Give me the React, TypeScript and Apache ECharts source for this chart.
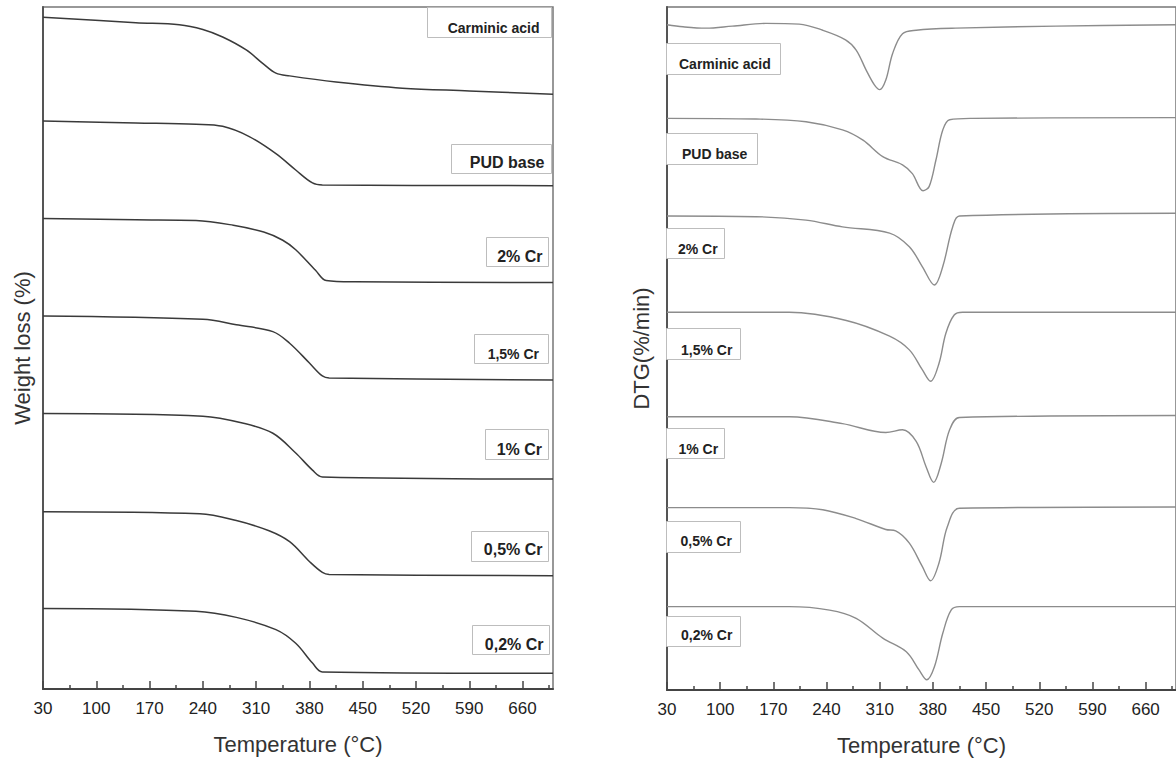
import React, { useEffect, useRef } from "react";
import * as echarts from "echarts";

// ---- categories / ticks ----
const sampleNames = ["Carminic acid", "PUD base", "2% Cr", "1,5% Cr", "1% Cr", "0,5% Cr", "0,2% Cr"];
const xMajorTicks = [30, 100, 170, 240, 310, 380, 450, 520, 590, 660];
const xMinorTicks = [65, 135, 205, 275, 345, 415, 485, 555, 625, 695];

// ---- TGA curves (left panel), [temperature °C, stacked signal a.u.] ----
const tgaCarminic = [[30, 98.5], [152, 97.7], [209, 97.4], [240, 96.7], [266, 95.6], [297, 93.7], [319, 91.7], [336, 90.3], [354, 89.9], [415, 89.0], [502, 88.1], [590, 87.7], [700, 87.2]];
const tgaPud = [[30, 83.3], [152, 83.0], [231, 82.8], [266, 82.5], [301, 81.0], [336, 78.5], [362, 76.1], [384, 74.2], [397, 73.9], [700, 73.8]];
const tga2 = [[30, 69.0], [152, 68.8], [231, 68.7], [280, 68.0], [320, 67.0], [345, 65.8], [362, 64.4], [388, 61.4], [402, 59.9], [440, 59.7], [700, 59.6]];
const tga15 = [[30, 54.7], [240, 54.2], [284, 53.4], [332, 52.4], [354, 50.7], [380, 47.8], [397, 45.9], [406, 45.6], [700, 45.3]];
const tga1 = [[30, 40.4], [240, 40.0], [292, 39.0], [332, 37.5], [362, 34.6], [384, 32.1], [397, 31.1], [700, 30.8]];
const tga05 = [[30, 26.0], [236, 25.7], [284, 24.7], [327, 23.2], [354, 21.6], [380, 18.7], [397, 17.1], [406, 16.8], [700, 16.6]];
const tga02 = [[30, 11.8], [231, 11.4], [284, 10.5], [336, 8.7], [362, 6.7], [384, 3.8], [397, 2.5], [700, 2.3]];

// ---- DTG curves (right panel), [temperature °C, stacked signal a.u.] ----
const dtgCarminic = [[30, 97.4], [51, 97.1], [81, 96.9], [116, 97.2], [160, 97.6], [204, 97.5], [235, 96.6], [265, 95.2], [279, 93.7], [292, 90.8], [303, 88.6], [310, 87.9], [318, 89.3], [327, 93.2], [340, 96.1], [358, 96.6], [410, 96.9], [542, 97.2], [700, 97.4]];
const dtgPud = [[30, 83.7], [147, 83.6], [213, 83.2], [261, 82.0], [288, 80.5], [314, 78.1], [340, 76.9], [353, 75.6], [367, 73.1], [375, 73.7], [384, 77.6], [393, 82.0], [402, 83.5], [432, 83.7], [700, 83.8]];
const dtg2 = [[30, 69.4], [147, 69.3], [213, 68.8], [261, 67.8], [323, 66.9], [349, 64.9], [366, 62.0], [382, 59.3], [393, 62.0], [406, 67.8], [415, 69.4], [700, 69.8]];
const dtg15 = [[30, 55.3], [191, 55.3], [266, 54.1], [323, 51.8], [349, 49.8], [366, 46.9], [377, 45.2], [388, 47.8], [397, 52.2], [408, 54.9], [419, 55.3], [700, 55.3]];
const dtg1 = [[30, 40.0], [191, 40.0], [261, 39.0], [318, 37.7], [340, 38.1], [358, 36.4], [371, 32.7], [381, 30.4], [391, 33.2], [402, 38.1], [415, 39.9], [700, 40.2]];
const dtg05 = [[30, 26.7], [191, 26.7], [235, 26.4], [279, 25.1], [318, 23.5], [331, 23.3], [349, 21.5], [366, 18.1], [377, 16.0], [388, 18.6], [399, 23.9], [415, 26.6], [700, 26.8]];
const dtg02 = [[30, 12.2], [191, 12.2], [244, 11.7], [279, 10.5], [314, 7.6], [345, 5.6], [362, 2.9], [372, 1.5], [382, 3.4], [393, 8.3], [404, 11.7], [415, 12.2], [700, 12.2]];

const tgaSeries = [tgaCarminic, tgaPud, tga2, tga15, tga1, tga05, tga02];
const dtgSeries = [dtgCarminic, dtgPud, dtg2, dtg15, dtg1, dtg05, dtg02];

// ---- label box layout (pixels) ----
// [x1, x2, y1, y2, textX, textY, fontSize]
const leftBoxes = [
  [427, 551, 7, 37, 539.5, 27.5, 14],
  [451, 551, 144, 173, 544.5, 162, 16],
  [486, 548, 237, 266, 542.5, 256.5, 16],
  [474, 548, 334, 363, 539, 354, 14],
  [485, 548, 429, 459, 542, 449, 16],
  [471, 548, 531, 561, 542.5, 549.5, 16],
  [472, 549, 625, 654, 543.5, 644, 16],
];
const rightBoxes = [
  [666, 780, 43, 74, 679, 63.5, 14],
  [666, 757, 133, 164, 682, 153.5, 14],
  [666, 724, 228, 258, 678, 248.5, 14],
  [666, 740, 328, 359, 681, 349.5, 14],
  [666, 724, 428, 458, 678.5, 448.5, 14],
  [666, 740, 521, 552, 680.5, 541, 14],
  [666, 740, 616, 646, 681, 635, 14],
];

const FONT = '"Liberation Sans", Arial, Helvetica, sans-serif';

function mainXAxis(gridIndex: number) {
  return {
    gridIndex,
    type: "value",
    min: 30,
    max: 700,
    position: "bottom",
    axisLine: { show: true, onZero: false, lineStyle: { color: "#444", width: 2 } },
    axisTick: { show: true, inside: true, length: 8, customValues: xMajorTicks, lineStyle: { color: "#444", width: 1.5 } },
    axisLabel: { show: true, customValues: xMajorTicks, fontSize: 17, color: "#222", margin: 11, fontFamily: FONT },
    splitLine: { show: false },
    name: "Temperature (°C)",
    nameLocation: "middle",
    nameGap: 44,
    nameTextStyle: { fontSize: 22, color: "#333", fontFamily: FONT },
  };
}
function minorXAxis(gridIndex: number) {
  return {
    gridIndex,
    type: "value",
    min: 30,
    max: 700,
    position: "bottom",
    axisLine: { show: false, onZero: false },
    axisTick: { show: true, inside: true, length: 4, customValues: xMinorTicks, lineStyle: { color: "#444", width: 1.5 } },
    axisLabel: { show: false },
    splitLine: { show: false },
  };
}
function yAxisFor(gridIndex: number, name: string, gap: number) {
  return {
    gridIndex,
    type: "value",
    min: 0,
    max: 100,
    axisLine: { show: true, lineStyle: { color: "#555", width: 2 } },
    axisTick: { show: false },
    axisLabel: { show: false },
    splitLine: { show: false },
    name,
    nameLocation: "middle",
    nameGap: gap,
    nameTextStyle: { fontSize: 22, color: "#333", fontFamily: FONT },
  };
}

function boxGraphics(boxes: number[][], align: "left" | "right") {
  const els: any[] = [];
  boxes.forEach((b, i) => {
    const [x1, x2, y1, y2, tx, ty, fs] = b;
    els.push({
      type: "rect",
      z: 100,
      shape: { x: x1 + 0.5, y: y1 + 0.5, width: x2 - x1, height: y2 - y1 },
      style: { fill: "#fff", stroke: "#bdbdbd", lineWidth: 1 },
    });
    els.push({
      type: "text",
      z: 101,
      x: tx,
      y: ty,
      style: {
        text: sampleNames[i],
        fill: "#222",
        fontSize: fs,
        fontWeight: "bold",
        fontFamily: FONT,
        align,
        verticalAlign: "middle",
      },
    });
  });
  return els;
}

export default function App() {
  const ref = useRef<HTMLDivElement>(null);
  useEffect(() => {
    if (!ref.current) return;
    const chart = echarts.init(ref.current, null, { renderer: "svg" });
    const series: any[] = [];
    tgaSeries.forEach((d, i) => {
      series.push({
        name: "TGA " + sampleNames[i],
        type: "line",
        xAxisIndex: 0,
        yAxisIndex: 0,
        data: d,
        showSymbol: false,
        smooth: 0.35,
        lineStyle: { color: "#3a3a3a", width: 1.5 },
      });
    });
    dtgSeries.forEach((d, i) => {
      series.push({
        name: "DTG " + sampleNames[i],
        type: "line",
        xAxisIndex: 1,
        yAxisIndex: 1,
        data: d,
        showSymbol: false,
        smooth: 0.35,
        lineStyle: { color: "#8c8c8c", width: 1.4 },
      });
    });
    chart.setOption({
      animation: false,
      backgroundColor: "#fff",
      grid: [
        { left: 43, top: 7, width: 510, height: 682, show: true, borderColor: "#777", borderWidth: 1.5, backgroundColor: "transparent" },
        { left: 667, top: 7, width: 509, height: 683, show: true, borderColor: "#777", borderWidth: 1.5, backgroundColor: "transparent" },
      ],
      xAxis: [mainXAxis(0), mainXAxis(1), minorXAxis(0), minorXAxis(1)],
      yAxis: [yAxisFor(0, "Weight loss (%)", 10), yAxisFor(1, "DTG(%/min)", 15)],
      series,
      graphic: [...boxGraphics(leftBoxes, "right"), ...boxGraphics(rightBoxes, "left")],
    });
    return () => chart.dispose();
  }, []);
  return (
    <div
      ref={ref}
      style={{ position: "absolute", left: 0, top: 0, width: 1176, height: 764, background: "#fff" }}
    />
  );
}
